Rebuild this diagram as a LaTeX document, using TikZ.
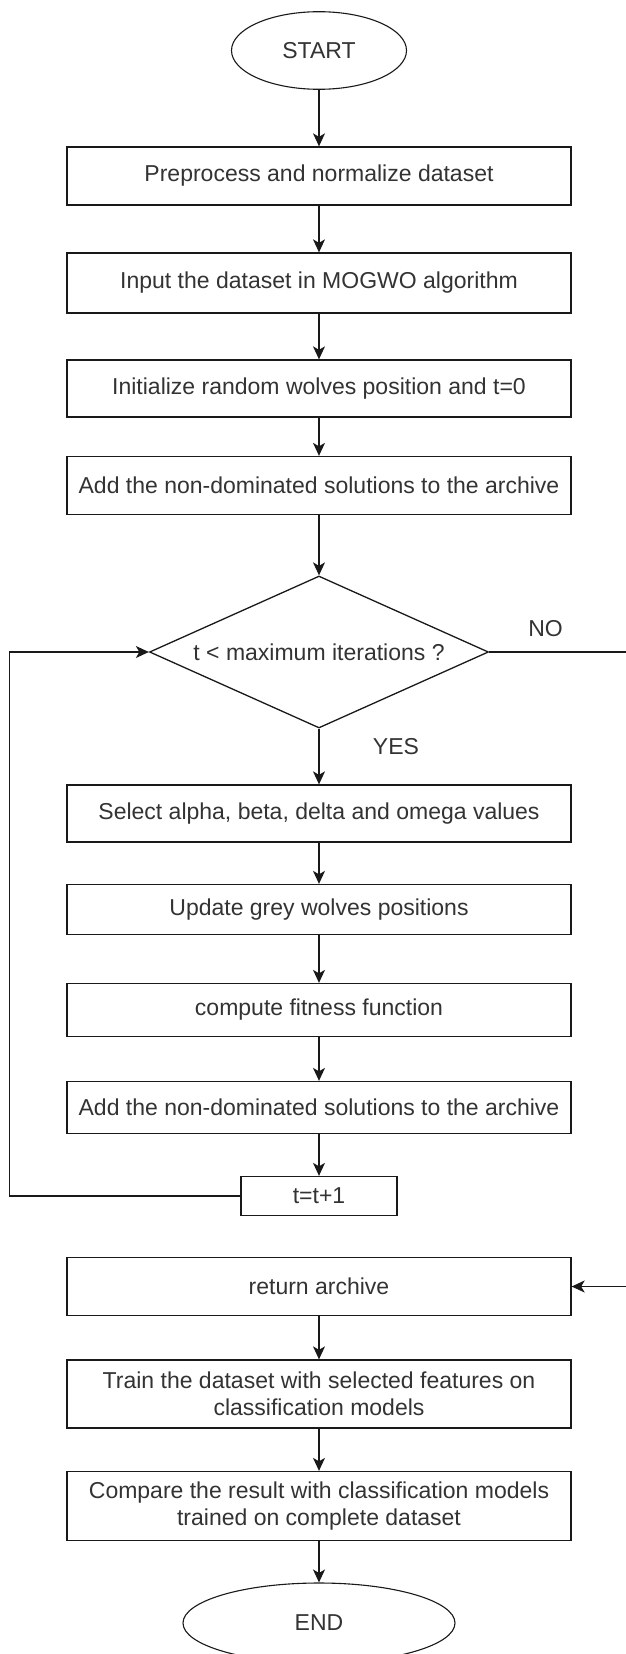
\documentclass[tikz,border=0pt]{standalone}
\usepackage{fontspec}
\setmainfont{Liberation Sans}
\usetikzlibrary{shapes.geometric,arrows.meta}
\begin{document}
\begin{tikzpicture}[x=1pt,y=-1pt,
  every node/.style={font=\fontsize{23}{27}\selectfont, text=black!80},
  procbox/.style={draw=black!90, line width=1.3pt, minimum width=504pt, inner sep=0pt, align=center},
  smallbox/.style={draw=black!90, line width=1.3pt, minimum width=156pt, minimum height=39pt, inner sep=0pt},
  term/.style={ellipse, draw=black!90, line width=1.1pt, inner sep=0pt},
  decision/.style={diamond, draw=black!90, line width=1.3pt, inner sep=0pt, aspect=2.23,
                   minimum width=339pt, minimum height=152pt},
  flow/.style={draw=black!90, line width=1.3pt, -{Stealth[length=13pt,width=12pt,inset=3.5pt]}},
  lbl/.style={inner sep=0pt}]

\useasboundingbox (0,0) rectangle (626,1654);
\clip (0,0) rectangle (626,1654);
\fill[white] (0,0) rectangle (626,1654);

% process steps
\node[term, minimum width=175pt, minimum height=77.6pt] (start) at (319,50.5) {START};
\node[procbox, minimum height=58pt] (prep)  at (319,176)    {Preprocess and normalize dataset};
\node[procbox, minimum height=60pt] (input) at (319,283)    {Input the dataset in MOGWO algorithm};
\node[procbox, minimum height=57pt] (init)  at (319,388.5)  {Initialize random wolves position and t=0};
\node[procbox, minimum height=58pt] (arch1) at (319,485.5)  {Add the non-dominated solutions to the archive};
\node[decision] (cond) at (319,652) {t < maximum iterations ?};
\node[procbox, minimum height=57pt] (sel)   at (319,813.5)  {Select alpha, beta, delta and omega values};
\node[procbox, minimum height=50pt] (upd)   at (319,909.5)  {Update grey wolves positions};
\node[procbox, minimum height=53pt] (fit)   at (319,1010)   {compute fitness function};
\node[procbox, minimum height=52pt] (arch2) at (319,1107.5) {Add the non-dominated solutions to the archive};
\node[smallbox] (inc) at (319,1196) {t=t+1};
\node[procbox, minimum height=58pt] (ret)   at (319,1286.5) {return archive};
\node[procbox, minimum height=68pt] (train) at (319,1394)   {Train the dataset with selected features on\\classification models};
\node[procbox, minimum height=69pt] (cmp)   at (319,1506)   {Compare the result with classification models\\trained on complete dataset};
\node[term, minimum width=272pt, minimum height=80pt] (end) at (319,1623) {END};

% branch labels
\node[lbl] (no)  at (545.5,629) {NO};
\node[lbl] (yes) at (396,747)   {YES};

% main flow
\draw[flow] (start.south) -- (prep.north);
\draw[flow] (prep.south)  -- (input.north);
\draw[flow] (input.south) -- (init.north);
\draw[flow] (init.south)  -- (arch1.north);
\draw[flow] (arch1.south) -- (cond.north);
\draw[flow] (cond.south)  -- (sel.north);
\draw[flow] (sel.south)   -- (upd.north);
\draw[flow] (upd.south)   -- (fit.north);
\draw[flow] (fit.south)   -- (arch2.north);
\draw[flow] (arch2.south) -- (inc.north);
\draw[flow] (ret.south)   -- (train.north);
\draw[flow] (train.south) -- (cmp.north);
\draw[flow] (cmp.south)   -- (end.north);

% loop back to the test
\coordinate (loopL) at (9.3,1196);
\draw[flow] (inc.west) -- (loopL) |- (cond.west);

% exit branch to the archive output
\coordinate (exitR) at (636,652);
\draw[flow] (cond.east) -- (exitR) |- (ret.east);
\end{tikzpicture}
\end{document}
